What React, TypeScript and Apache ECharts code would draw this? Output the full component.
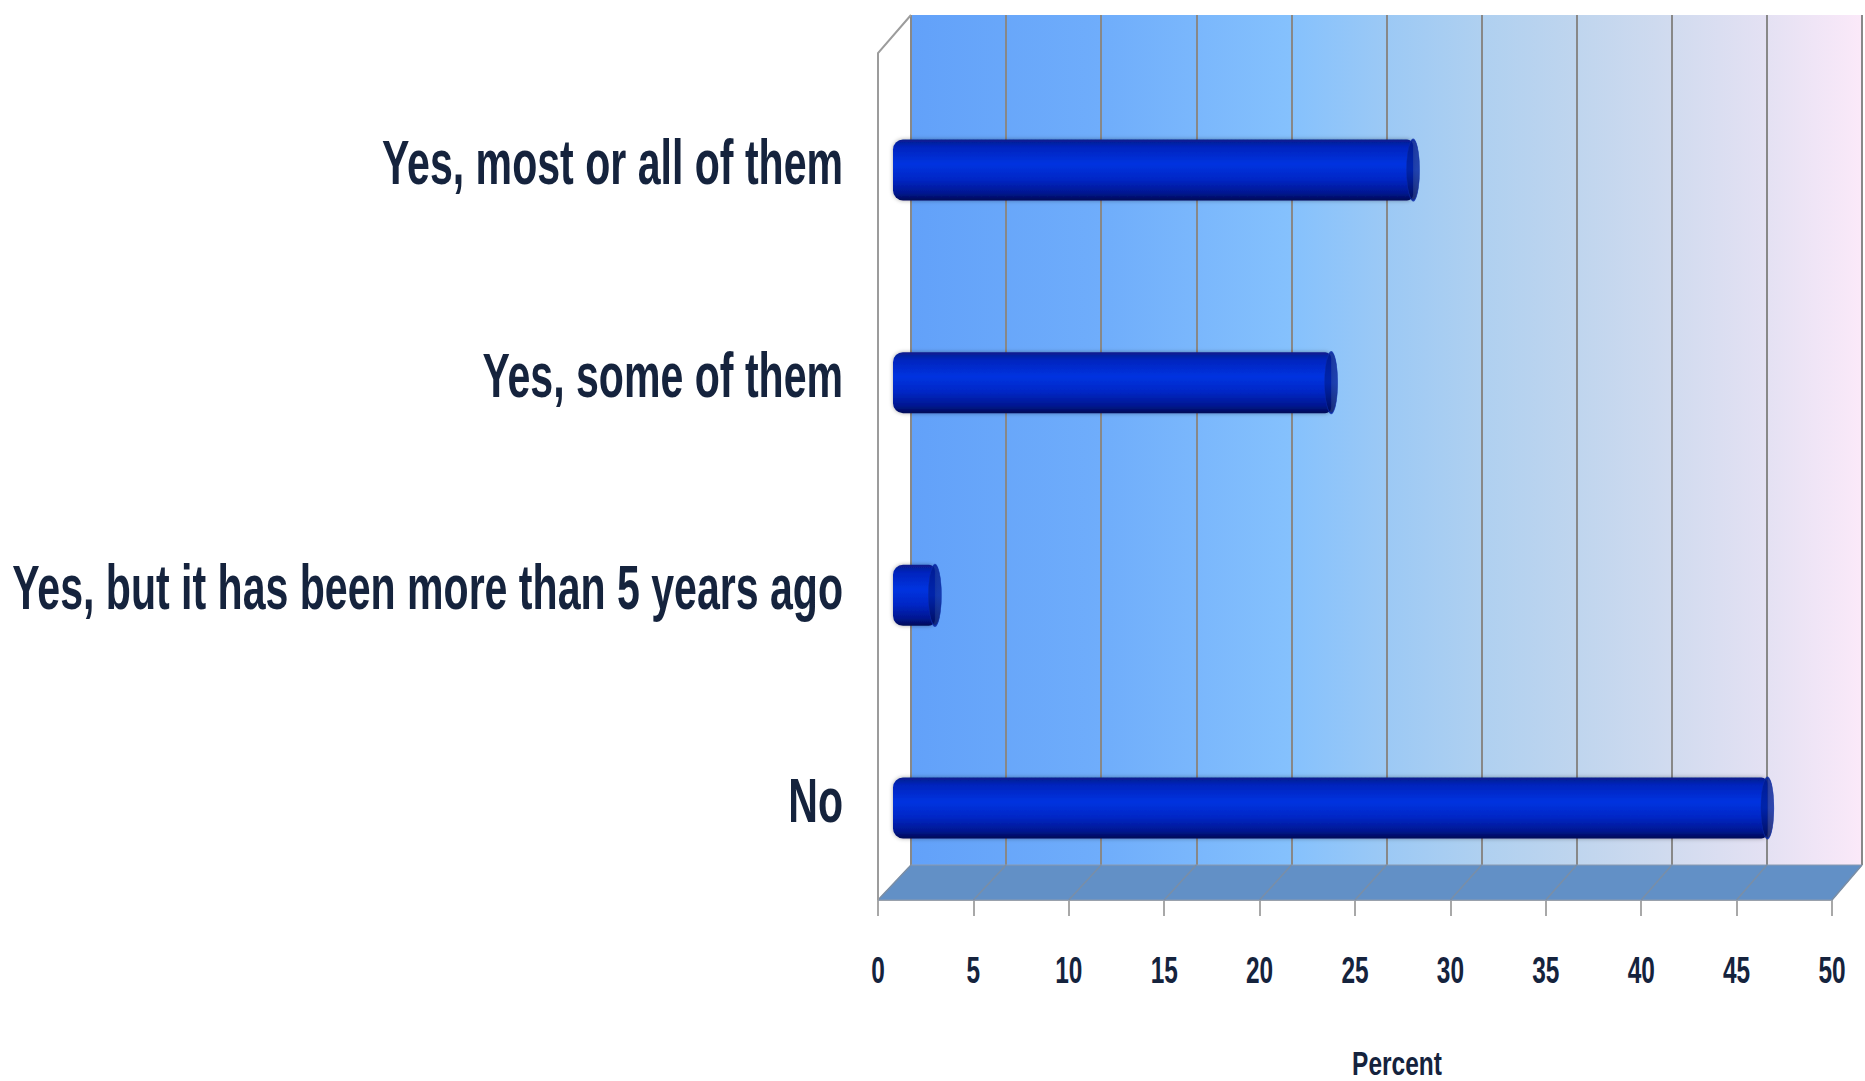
import React, { useEffect, useRef } from "react";
import * as echarts from "echarts";

const categories = [
  "Yes, most or all of them",
  "Yes, some of them",
  "Yes, but it has been more than 5 years ago",
  "No",
];
const percentValues = [27.3, 23.0, 2.2, 45.9];
const axisMin = 0;
const axisMax = 50;
const axisInterval = 5;
const axisName = "Percent";

// layout (pixels)
const W = 1865;
const H = 1081;
const FRONT_LEFT = 878;
const FRONT_RIGHT = 1832;
const FRONT_Y = 900;
const BACK_LEFT = 911;
const BACK_RIGHT = 1862;
const BACK_Y = 865;
const WALL_TOP = 15;
const SIDE_TOP_Y = 53;

const FONT = "'Liberation Sans', Arial, sans-serif";
const TEXT_COLOR = "#15233d";

export default function App() {
  const ref = useRef<HTMLDivElement>(null);

  useEffect(() => {
    if (!ref.current) return;
    const chart = echarts.init(ref.current, undefined, { renderer: "svg" });

    const barGradient = new echarts.graphic.LinearGradient(0, 0, 0, 1, [
      { offset: 0, color: "#0a1d8a" },
      { offset: 0.12, color: "#0024bd" },
      { offset: 0.4, color: "#0533e0" },
      { offset: 0.65, color: "#0327c6" },
      { offset: 0.88, color: "#001690" },
      { offset: 1, color: "#000b55" },
    ]);
    const capGradient = new echarts.graphic.LinearGradient(0, 0, 0, 1, [
      { offset: 0, color: "#001a8c" },
      { offset: 0.5, color: "#00209e" },
      { offset: 1, color: "#000c5a" },
    ]);
    const wallGradient = new echarts.graphic.LinearGradient(0, 0, 1, 0, [
      { offset: 0, color: "#62a1f9" },
      { offset: 0.2, color: "#6fadfb" },
      { offset: 0.4, color: "#85c1fd" },
      { offset: 0.5, color: "#9cc9f5" },
      { offset: 0.6, color: "#afd0f0" },
      { offset: 0.7, color: "#bfd5ee" },
      { offset: 0.8, color: "#d1dbef" },
      { offset: 0.9, color: "#e4e1f3" },
      { offset: 1, color: "#fbe9f9" },
    ]);

    const barLeft = (FRONT_LEFT + BACK_LEFT) / 2 - 1.5;
    const barRight = (FRONT_RIGHT + BACK_RIGHT) / 2 - 1.5;

    chart.setOption({
      animation: false,
      backgroundColor: "#ffffff",
      grid: [
        {
          left: BACK_LEFT,
          right: W - BACK_RIGHT,
          top: WALL_TOP,
          bottom: H - BACK_Y,
          show: true,
          backgroundColor: wallGradient,
          borderWidth: 0,
          outerBoundsMode: "none",
        },
        {
          left: FRONT_LEFT,
          right: W - FRONT_RIGHT,
          top: FRONT_Y - 10,
          bottom: H - FRONT_Y,
          outerBoundsMode: "none",
        },
        {
          left: barLeft,
          right: W - barRight,
          top: 63.7,
          bottom: H - 914.3,
          outerBoundsMode: "none",
        },
      ],
      xAxis: [
        {
          gridIndex: 0,
          type: "value",
          min: axisMin,
          max: axisMax,
          interval: axisInterval,
          axisLine: { show: false },
          axisTick: { show: false },
          axisLabel: { show: false },
          splitLine: { show: true, lineStyle: { color: "#888888", width: 2 } },
        },
        {
          gridIndex: 1,
          type: "value",
          min: axisMin,
          max: axisMax,
          interval: axisInterval,
          position: "bottom",
          axisLine: { show: true, lineStyle: { color: "#a8a8a8", width: 2 } },
          axisTick: { show: true, length: 16, lineStyle: { color: "#a8a8a8", width: 2 } },
          axisLabel: { show: false },
          splitLine: { show: false },
        },
        {
          gridIndex: 2,
          type: "value",
          min: axisMin,
          max: axisMax,
          show: false,
        },
      ],
      yAxis: [
        { gridIndex: 0, type: "value", show: false },
        { gridIndex: 1, type: "value", show: false },
        {
          gridIndex: 2,
          type: "category",
          inverse: true,
          data: categories,
          axisLine: { show: false },
          axisTick: { show: false },
          splitLine: { show: false },
          axisLabel: { show: false },
        },
      ],
      series: [
        {
          type: "bar",
          xAxisIndex: 2,
          yAxisIndex: 2,
          data: percentValues,
          barWidth: 61,
          z: 3,
          itemStyle: {
            color: barGradient,
            borderRadius: [10, 6, 6, 10],
            shadowColor: "rgba(0,0,0,0.35)",
            shadowBlur: 4,
          },
        },
        {
          type: "scatter",
          xAxisIndex: 2,
          yAxisIndex: 2,
          data: percentValues.map((v, i) => [v, i]),
          symbol: "circle",
          symbolSize: [13, 61],
          z: 4,
          itemStyle: { color: capGradient, borderColor: "#0a2aa8", borderWidth: 1 },
        },
      ],
    });

    // Decorations and condensed texts, positioned through the chart's own scales
    const steps = Math.round((axisMax - axisMin) / axisInterval);
    const ticks: number[] = [];
    for (let i = 0; i <= steps; i++) ticks.push(axisMin + i * axisInterval);

    const graphics: any[] = [];
    graphics.push({
      type: "polygon",
      z: 1,
      shape: {
        points: [
          [FRONT_LEFT, FRONT_Y],
          [BACK_LEFT, BACK_Y],
          [BACK_RIGHT, BACK_Y],
          [FRONT_RIGHT, FRONT_Y],
        ],
      },
      style: { fill: "#6290c6", stroke: "#8a9ab0", lineWidth: 1 },
      silent: true,
    });
    ticks.forEach((t) => {
      const fx = chart.convertToPixel({ xAxisIndex: 1 }, t) as number;
      const bx = chart.convertToPixel({ xAxisIndex: 0 }, t) as number;
      graphics.push({
        type: "line",
        z: 2,
        shape: { x1: fx, y1: FRONT_Y, x2: bx, y2: BACK_Y },
        style: { stroke: "#7a8ea6", lineWidth: 1.5 },
        silent: true,
      });
      graphics.push({
        type: "text",
        z: 5,
        x: fx,
        y: 971,
        scaleX: 0.66,
        style: {
          text: String(t),
          fill: TEXT_COLOR,
          font: `bold 37px ${FONT}`,
          align: "center",
          verticalAlign: "middle",
        },
      });
    });
    graphics.push({
      type: "polyline",
      z: 2,
      shape: {
        points: [
          [FRONT_LEFT, FRONT_Y],
          [FRONT_LEFT, SIDE_TOP_Y],
          [BACK_LEFT, WALL_TOP],
        ],
      },
      style: { stroke: "#9c9c9c", lineWidth: 2, fill: null },
      silent: true,
    });

    const midX =
      ((chart.convertToPixel({ xAxisIndex: 1 }, axisMin) as number) +
        (chart.convertToPixel({ xAxisIndex: 1 }, axisMax) as number)) /
      2;
    graphics.push({
      type: "text",
      z: 5,
      x: midX + 42,
      y: 1063,
      scaleX: 0.72,
      style: {
        text: axisName,
        fill: TEXT_COLOR,
        font: `bold 34px ${FONT}`,
        align: "center",
        verticalAlign: "middle",
      },
    });

    categories.forEach((c, i) => {
      const p = chart.convertToPixel({ gridIndex: 2 }, [0, i]) as number[];
      graphics.push({
        type: "text",
        z: 5,
        x: p[0] - 50,
        y: p[1] - 8,
        scaleX: 0.652,
        style: {
          text: c,
          fill: TEXT_COLOR,
          font: `bold 63px ${FONT}`,
          align: "right",
          verticalAlign: "middle",
        },
      });
    });

    chart.setOption({ graphic: graphics });

    return () => chart.dispose();
  }, []);

  return (
    <div
      ref={ref}
      style={{ position: "fixed", left: 0, top: 0, width: W, height: H }}
    />
  );
}
